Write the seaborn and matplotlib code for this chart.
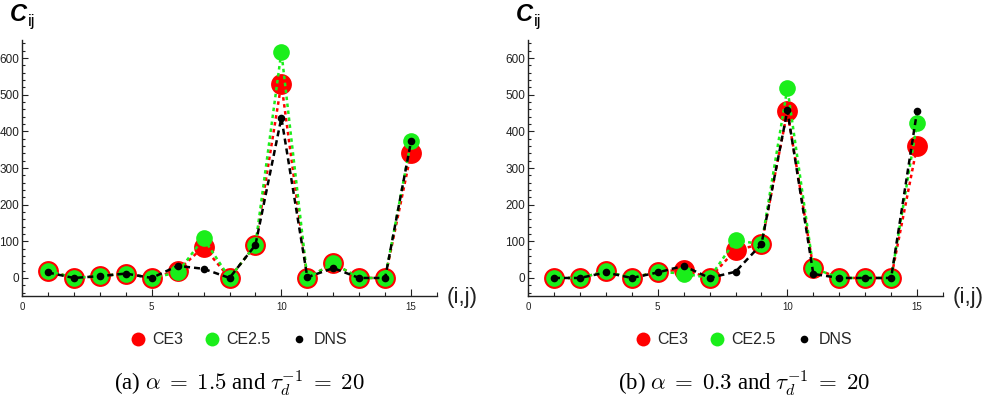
import matplotlib
matplotlib.use("Agg")
import matplotlib.pyplot as plt
from matplotlib.lines import Line2D
import seaborn as sns
import pandas as pd

# Pair index (i,j) along the horizontal axis
pairs = list(range(1, 16))

# Panel (a): alpha = 1.5, tau_d^-1 = 20
a_ce3 = [20, 0, 5, 12, 0, 20, 85, 0, 90, 530, 0, 40, 0, 0, 341]
a_ce25 = [20, 0, 5, 12, 0, 15, 108, 0, 90, 617, 0, 40, 0, 0, 374]
a_dns = [15, 0, 5, 12, 0, 33, 25, 0, 90, 437, 2, 27, 0, 0, 373]

# Panel (b): alpha = 0.3, tau_d^-1 = 20
b_ce3 = [0, 0, 18, 0, 17, 23, 0, 76, 92, 455, 27, 0, 0, 0, 360]
b_ce25 = [0, 0, 18, 0, 17, 12, 0, 103, 92, 518, 27, 0, 0, 0, 422]
b_dns = [0, 0, 15, 0, 15, 33, 0, 17, 92, 457, 11, 0, 0, 0, 455]

series_names = ["CE3", "CE2.5", "DNS"]
captions = [r"(a) $\alpha\;=\;1.5$ and $\tau_d^{-1}\;=\;20$",
            r"(b) $\alpha\;=\;0.3$ and $\tau_d^{-1}\;=\;20$"]

sns.set_theme(style="white")
plt.rcParams["font.family"] = ["Liberation Sans", "DejaVu Sans"]
plt.rcParams["mathtext.fontset"] = "cm"

RED = "#ff0000"
GREEN = "#1aee1a"
BLACK = "#000000"

styles = {
    "CE3": dict(color=RED, ms=15, ls=(0, (1.4, 1.4))),
    "CE2.5": dict(color=GREEN, ms=12, ls=(0, (1.4, 1.4))),
    "DNS": dict(color=BLACK, ms=5.5, ls=(0, (2.4, 1.6))),
}

W, H = 989, 409
fig = plt.figure(figsize=(W / 100, H / 100), dpi=100)

panels = [
    dict(data=(a_ce3, a_ce25, a_dns), left=22, caption=captions[0], cx=239, lx=239),
    dict(data=(b_ce3, b_ce25, b_dns), left=528, caption=captions[1], cx=744, lx=744),
]

bottom_px, top_px = 296.3, 39.7
for p in panels:
    ax = fig.add_axes([p["left"] / W, (H - bottom_px) / H,
                       415 / W, (bottom_px - top_px) / H])
    df = pd.DataFrame({"pair": pairs})
    for name, vals in zip(series_names, p["data"]):
        df[name] = vals
        st = styles[name]
        sns.lineplot(data=df, x="pair", y=name, ax=ax, color=st["color"],
                     linestyle=st["ls"], linewidth=1.8, marker="o",
                     markersize=st["ms"], markeredgewidth=0, clip_on=False)

    ax.set_xlim(0, 16)
    ax.set_ylim(-50, 650)
    ax.set_xlabel("")
    ax.set_ylabel("")
    sns.despine(ax=ax)
    for s in ("left", "bottom"):
        ax.spines[s].set_color("#222222")
        ax.spines[s].set_linewidth(1.0)
    ax.set_xticks([0, 5, 10, 15])
    ax.set_xticks(range(0, 17), minor=True)
    ax.set_yticks([0, 100, 200, 300, 400, 500, 600])
    ax.set_yticks(range(-40, 650, 20), minor=True)
    ax.tick_params(axis="both", which="both", direction="in", color="#222222",
                   width=0.8, left=True, bottom=True, labelcolor="#222222")
    ax.tick_params(axis="y", which="major", length=4, pad=2, labelsize=8.5)
    ax.tick_params(axis="y", which="minor", length=2.5)
    ax.tick_params(axis="x", which="major", length=5, pad=4, labelsize=7)
    ax.tick_params(axis="x", which="minor", length=3)

    # Axis labels in the Mathematica style
    x0 = p["left"]
    fig.text((x0 - 12) / W, (H - 21) / H, "C", fontsize=17, fontstyle="italic",
             fontweight="bold", ha="left", va="baseline", color="black")
    fig.text((x0 + 6) / W, (H - 26) / H, "ij", fontsize=12,
             ha="left", va="baseline", color="black")
    fig.text((x0 + 425) / W, (H - 297) / H, "(i,j)", fontsize=16,
             ha="left", va="center", color="#222222")

    handles = [Line2D([], [], ls="none", marker="o", color=styles[n]["color"],
                      markersize=ms, markeredgewidth=0)
               for n, ms in zip(series_names, [10, 10, 5.5])]
    fig.legend(handles, series_names, loc="center", ncol=3, frameon=False,
               bbox_to_anchor=(p["lx"] / W, (H - 340) / H), fontsize=11.5,
               handlelength=0.9, handletextpad=0.45, columnspacing=1.35)

    fig.text(p["cx"] / W, (H - 384) / H, p["caption"], fontsize=16.5,
             family=["Liberation Serif", "DejaVu Serif"], ha="center",
             va="center", color="black")

fig.savefig("out.png", dpi=100)
